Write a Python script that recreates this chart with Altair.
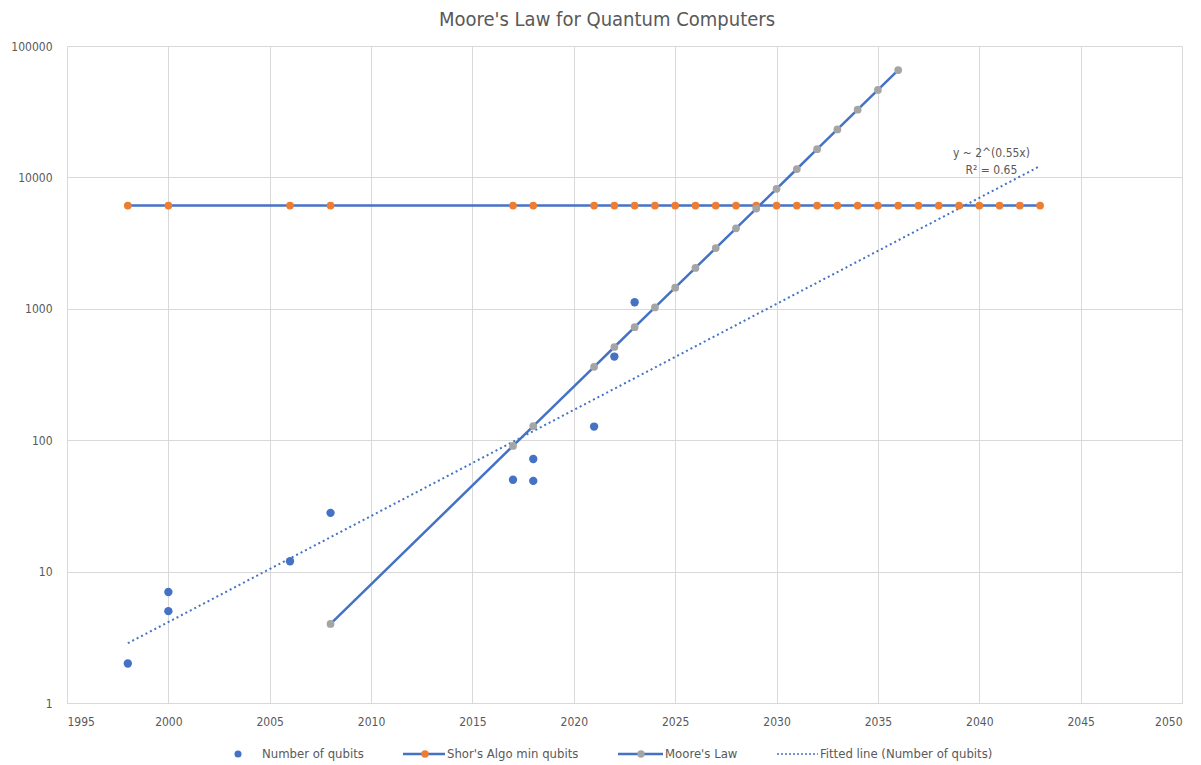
import altair as alt
import pandas as pd

# ---- data ----
qubit_years = [1998, 2000, 2000, 2006, 2008, 2017, 2018, 2018, 2021, 2022, 2023]
qubit_counts = [2, 7, 5, 12, 28, 50, 72, 49, 127, 433, 1121]

shor_years = [1998, 2000, 2006, 2008, 2017, 2018, 2021, 2022, 2023, 2024, 2025,
              2026, 2027, 2028, 2029, 2030, 2031, 2032, 2033, 2034, 2035, 2036,
              2037, 2038, 2039, 2040, 2041, 2042, 2043]
shor_qubits = [6100] * len(shor_years)

moore_years = [2008, 2017, 2018, 2021, 2022, 2023, 2024, 2025, 2026, 2027,
               2028, 2029, 2030, 2031, 2032, 2033, 2034, 2035, 2036]
moore_qubits = [4, 90.5, 128, 362, 512, 724, 1024, 1448, 2048, 2896, 4096,
                5793, 8192, 11585, 16384, 23170, 32768, 46341, 65536]

fit_years = [1998, 2043]
fit_qubits = [2.85, 12200]

annot_text = ["y ~ 2^(0.55x)", "R\u00b2 = 0.65"]
annot_year = [2040.6, 2040.6]
annot_value = [15300, 11400]

x_ticks = [1995, 2000, 2005, 2010, 2015, 2020, 2025, 2030, 2035, 2040, 2045, 2050]
y_ticks = [1, 10, 100, 1000, 10000, 100000]

title_text = "Moore's Law for Quantum Computers"
legend_labels = ["Number of qubits", "Shor's Algo min qubits", "Moore's Law",
                 "Fitted line (Number of qubits)"]

# ---- styling ----
BLUE = "#4472C4"
ORANGE = "#ED7D31"
GRAY = "#A5A5A5"
TXT = "#595959"
FONT = "DejaVu Sans Condensed, Liberation Sans Narrow, sans-serif"

W, H = 1115, 657

qubits_df = pd.DataFrame({"year": qubit_years, "value": qubit_counts})
shor_df = pd.DataFrame({"year": shor_years, "value": shor_qubits})
moore_df = pd.DataFrame({"year": moore_years, "value": moore_qubits})
fit_df = pd.DataFrame({"year": fit_years, "value": fit_qubits})
annot_df = pd.DataFrame({"year": annot_year, "value": annot_value, "text": annot_text})

xscale = alt.Scale(domain=[1995, 2050], nice=False, zero=False)
yscale = alt.Scale(type="log", domain=[1, 100000], nice=False)

xenc = alt.X("year:Q", scale=xscale,
             axis=alt.Axis(values=x_ticks, format="d", title=None, grid=True,
                           ticks=False, labelPadding=13))
yenc = alt.Y("value:Q", scale=yscale,
             axis=alt.Axis(values=y_ticks, format="d", title=None, grid=True,
                           ticks=False, labelPadding=15))

base_x = alt.X("year:Q", scale=xscale)
base_y = alt.Y("value:Q", scale=yscale)

shor_line = alt.Chart(shor_df).mark_line(color=BLUE, strokeWidth=2.5).encode(x=xenc, y=yenc)
shor_pts = alt.Chart(shor_df).mark_point(filled=True, color=ORANGE, size=60, opacity=1).encode(x=base_x, y=base_y)

moore_line = alt.Chart(moore_df).mark_line(color=BLUE, strokeWidth=2.5).encode(x=base_x, y=base_y)
moore_pts = alt.Chart(moore_df).mark_point(filled=True, color=GRAY, size=60, opacity=1).encode(x=base_x, y=base_y)

fit_line = alt.Chart(fit_df).mark_line(color=BLUE, strokeWidth=2, strokeDash=[2, 3]).encode(x=base_x, y=base_y)

qubit_pts = alt.Chart(qubits_df).mark_point(filled=True, color=BLUE, size=70, opacity=1).encode(x=base_x, y=base_y)

annot = alt.Chart(annot_df).mark_text(font=FONT, fontSize=12, color=TXT, align="center", baseline="middle").encode(
    x=base_x, y=base_y, text="text:N")

one = pd.DataFrame({"k": [0]})

title = alt.Chart(one).mark_text(text=title_text, font=FONT, fontSize=20, color=TXT,
                                 align="center", baseline="alphabetic").encode(
    x=alt.value(540), y=alt.value(-20))

# ---- legend (drawn as marks below the plot) ----
LY = 708
leg = [
    alt.Chart(one).mark_point(filled=True, color=BLUE, size=50, opacity=1).encode(x=alt.value(171), y=alt.value(LY)),
    alt.Chart(one).mark_rule(color=BLUE, strokeWidth=2.5).encode(x=alt.value(336), x2=alt.value(378), y=alt.value(LY)),
    alt.Chart(one).mark_point(filled=True, color=ORANGE, size=55, opacity=1).encode(x=alt.value(358), y=alt.value(LY)),
    alt.Chart(one).mark_rule(color=BLUE, strokeWidth=2.5).encode(x=alt.value(551), x2=alt.value(596), y=alt.value(LY)),
    alt.Chart(one).mark_point(filled=True, color=GRAY, size=55, opacity=1).encode(x=alt.value(574), y=alt.value(LY)),
    alt.Chart(one).mark_rule(color=BLUE, strokeWidth=1.5, strokeDash=[2, 2]).encode(x=alt.value(710), x2=alt.value(751), y=alt.value(LY)),
]
text_x = [195, 380, 598, 753]
for lbl, tx in zip(legend_labels, text_x):
    leg.append(alt.Chart(one).mark_text(text=lbl, font=FONT, fontSize=13, color=TXT,
                                        align="left", baseline="middle").encode(
        x=alt.value(tx), y=alt.value(LY)))

chart = alt.layer(shor_line, fit_line, moore_line, shor_pts, moore_pts, qubit_pts, annot, title, *leg).properties(
    width=W, height=H,
    autosize=alt.AutoSizeParams(type="none"),
    padding={"left": 59, "top": 38, "right": 10, "bottom": 58},
).configure_view(stroke=None).configure_axis(
    gridColor="#D9D9D9", gridWidth=1, domainColor="#D9D9D9", domainWidth=1,
    labelFont=FONT, labelFontSize=12, labelColor=TXT,
).configure_axisY(domain=True).configure_axisX(domain=True)

chart.save("out.html", embed_options={"renderer": "svg", "actions": False})
